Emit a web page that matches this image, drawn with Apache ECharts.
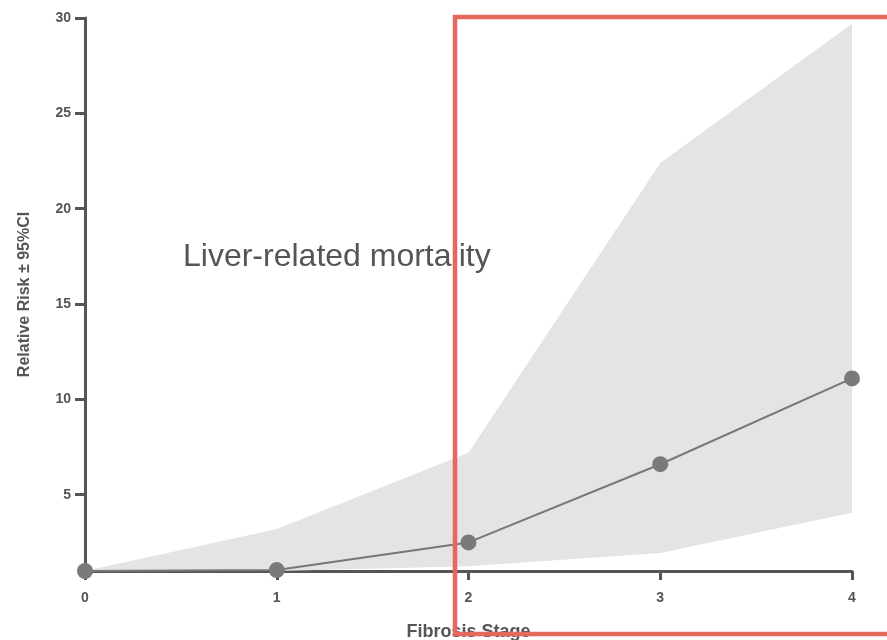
<!DOCTYPE html>
<html><head><meta charset="utf-8">
<script src="https://cdn.jsdelivr.net/npm/echarts@6/dist/echarts.min.js"></script>
<style>html,body{margin:0;padding:0;background:#fff}#c{width:887px;height:640px}</style>
</head><body><div id="c"></div>
<script>
const stages = ['0', '1', '2', '3', '4'];
const relativeRisk = [1.0, 1.05, 2.5, 6.6, 11.1];
const ciLower = [1.0, 1.0, 1.25, 1.95, 4.05];
const ciUpper = [1.0, 3.2, 7.2, 22.4, 29.7];
const yTicks = [5, 10, 15, 20, 25, 30];

const axisColor = '#555';
const chart = echarts.init(document.getElementById('c'));
chart.setOption({
  animation: false,
  backgroundColor: '#fff',
  grid: { left: 85, right: 35, top: 18, bottom: 69, outerBoundsMode: 'none', containLabel: false },
  xAxis: {
    type: 'category', data: stages, boundaryGap: false,
    name: 'Fibrosis Stage', nameLocation: 'middle', nameGap: 52,
    nameTextStyle: { color: axisColor, fontSize: 18, fontWeight: 'bold', fontFamily: 'Liberation Sans, Arial' },
    axisLine: { show: true, lineStyle: { color: axisColor, width: 3 } },
    axisTick: { show: true, length: 9, alignWithLabel: true, lineStyle: { color: axisColor, width: 3 } },
    axisLabel: { color: axisColor, fontSize: 14, fontWeight: 'bold', margin: 20, fontFamily: 'Liberation Sans, Arial' },
    splitLine: { show: false }
  },
  yAxis: {
    type: 'value', min: 1, max: 30,
    name: 'Relative Risk ± 95%CI', nameLocation: 'middle', nameGap: 52,
    nameTextStyle: { color: axisColor, fontSize: 16, fontWeight: 'bold', fontFamily: 'Liberation Sans, Arial' },
    axisLine: { show: true, lineStyle: { color: axisColor, width: 3 } },
    axisTick: { show: true, length: 10, customValues: yTicks, lineStyle: { color: axisColor, width: 3 } },
    axisLabel: { color: axisColor, fontSize: 14, fontWeight: 'bold', margin: 14, customValues: yTicks, fontFamily: 'Liberation Sans, Arial' },
    splitLine: { show: false }
  },
  series: [
    {
      type: 'line', stack: 'ci', symbol: 'none', silent: true,
      data: ciLower,
      lineStyle: { opacity: 0 }, z: 1
    },
    {
      type: 'line', stack: 'ci', symbol: 'none', silent: true,
      data: ciUpper.map((u, i) => u - ciLower[i]),
      lineStyle: { opacity: 0 },
      areaStyle: { color: '#e4e4e4', opacity: 1 }, z: 1
    },
    {
      type: 'line', symbol: 'circle', symbolSize: 16,
      data: relativeRisk,
      lineStyle: { color: '#777', width: 2 },
      itemStyle: { color: '#7a7a7a' }, z: 5
    }
  ],
  graphic: [
    {
      type: 'text', left: 183, top: 241, z: 10,
      style: { text: 'Liver-related mortality', fill: '#555', font: '32px "Liberation Sans", Arial, sans-serif' }
    },
    {
      type: 'rect', z: 20,
      shape: { x: 455, y: 17, width: 460, height: 617 },
      style: { fill: 'none', stroke: '#e6675c', lineWidth: 4.5 }
    }
  ]
});
</script></body></html>
